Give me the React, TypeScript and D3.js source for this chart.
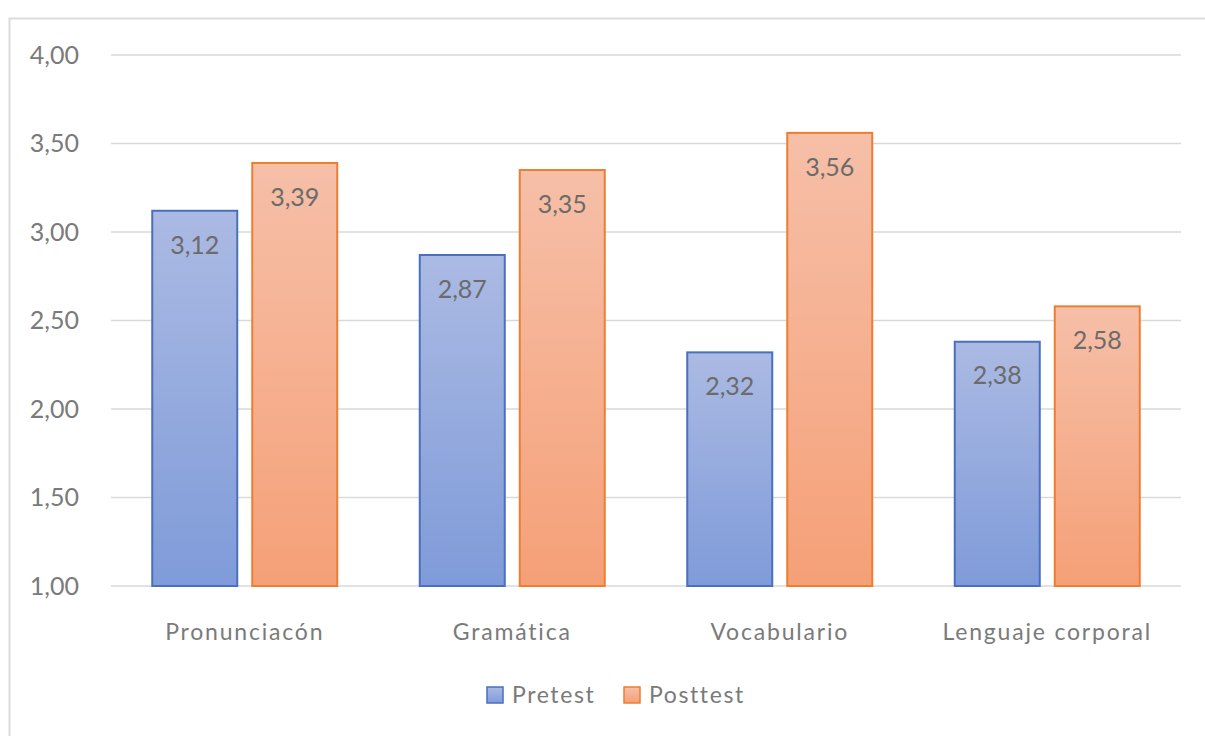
import { useEffect, useRef } from 'react';
import * as d3 from 'd3';

const categories = ['Pronunciacón', 'Gramática', 'Vocabulario', 'Lenguaje corporal'];
const seriesNames = ['Pretest', 'Posttest'];
const pretest = [3.12, 2.87, 2.32, 2.38];
const posttest = [3.39, 3.35, 3.56, 2.58];
const yTicks = [1, 1.5, 2, 2.5, 3, 3.5, 4];

const W = 1205;
const H = 736;
const FONT = 'Lato, "Open Sans", "DejaVu Sans", sans-serif';

// fill gradient (top, bottom) and outline for each series
const colors = [
    { top: '#abbae3', bottom: '#7f9bd9', stroke: '#4a6fbf' },
    { top: '#f6bfa8', bottom: '#f5a077', stroke: '#ed7d31' },
];

const fmt = (n: number) => n.toFixed(2).replace('.', ',');

export default function App() {
    const ref = useRef<SVGSVGElement>(null);

    useEffect(() => {
        const svg = d3.select(ref.current);
        svg.selectAll('*').remove();

        const plot = { left: 111, right: 1181, top: 55, bottom: 586 };

        const x = d3.scaleBand().domain(categories).range([plot.left, plot.right]).padding(0);
        const groupW = 185;
        const xs = d3.scaleBand().domain(seriesNames).range([0, groupW]).paddingInner(0.15);
        const y = d3.scaleLinear().domain([1, 4]).range([plot.bottom, plot.top]);

        const defs = svg.append('defs');
        colors.forEach((c, i) => {
            const g = defs.append('linearGradient')
                .attr('id', `grad${i}`)
                .attr('x1', 0).attr('y1', 0).attr('x2', 0).attr('y2', 1);
            g.append('stop').attr('offset', '0%').attr('stop-color', c.top);
            g.append('stop').attr('offset', '100%').attr('stop-color', c.bottom);
        });

        // outer chart border (only left and top are inside the picture)
        svg.append('path')
            .attr('d', `M9.5,${H + 5} V18.5 H${W + 5}`)
            .attr('fill', 'none')
            .attr('stroke', '#dcdcdc')
            .attr('stroke-width', 2);

        // gridlines
        svg.append('g')
            .selectAll('line')
            .data(yTicks)
            .join('line')
            .attr('x1', plot.left)
            .attr('x2', plot.right)
            .attr('y1', d => y(d))
            .attr('y2', d => y(d))
            .attr('stroke', '#d9d9d9')
            .attr('stroke-width', 1.5);

        // y tick labels
        svg.append('g')
            .selectAll('text')
            .data(yTicks)
            .join('text')
            .attr('x', 79)
            .attr('y', d => y(d))
            .attr('dy', '0.35em')
            .attr('text-anchor', 'end')
            .attr('font-family', FONT)
            .attr('font-size', 25)
            .attr('fill', '#7a7a7a')
            .text(d => fmt(d));

        const data = [pretest, posttest];
        const offset = (x.bandwidth() - groupW) / 2;

        data.forEach((vals, si) => {
            const g = svg.append('g');
            g.selectAll('rect')
                .data(vals)
                .join('rect')
                .attr('x', (d, i) => x(categories[i])! + offset + xs(seriesNames[si])!)
                .attr('y', d => y(d))
                .attr('width', xs.bandwidth())
                .attr('height', d => y(1) - y(d))
                .attr('fill', `url(#grad${si})`)
                .attr('stroke', colors[si].stroke)
                .attr('stroke-width', 2);

            g.selectAll('text')
                .data(vals)
                .join('text')
                .attr('x', (d, i) => x(categories[i])! + offset + xs(seriesNames[si])! + xs.bandwidth() / 2)
                .attr('y', d => y(d) + 34)
                .attr('dy', '0.35em')
                .attr('text-anchor', 'middle')
                .attr('font-family', FONT)
                .attr('font-size', 25)
                .attr('fill', '#6b6b6b')
                .text(d => fmt(d));
        });

        // category labels
        svg.append('g')
            .selectAll('text')
            .data(categories)
            .join('text')
            .attr('x', d => x(d)! + x.bandwidth() / 2)
            .attr('y', 632)
            .attr('dy', '0.35em')
            .attr('text-anchor', 'middle')
            .attr('font-family', FONT)
            .attr('font-size', 23)
            .attr('letter-spacing', 1.8)
            .attr('fill', '#7a7a7a')
            .text(d => d);

        // legend
        const legendItems = [
            { name: seriesNames[0], x: 487 },
            { name: seriesNames[1], x: 624 },
        ];
        const lg = svg.append('g');
        legendItems.forEach((item, i) => {
            lg.append('rect')
                .attr('x', item.x)
                .attr('y', 687)
                .attr('width', 16)
                .attr('height', 16)
                .attr('fill', `url(#grad${i})`)
                .attr('stroke', colors[i].stroke)
                .attr('stroke-width', 1.5);
            lg.append('text')
                .attr('x', item.x + 25)
                .attr('y', 695)
                .attr('dy', '0.35em')
                .attr('font-family', FONT)
                .attr('font-size', 23)
                .attr('letter-spacing', 1.6)
                .attr('fill', '#7a7a7a')
                .text(item.name);
        });
    }, []);

    return (
        <svg
            ref={ref}
            width={W}
            height={H}
            style={{ position: 'absolute', left: 0, top: 0, background: '#fff' }}
        />
    );
}
